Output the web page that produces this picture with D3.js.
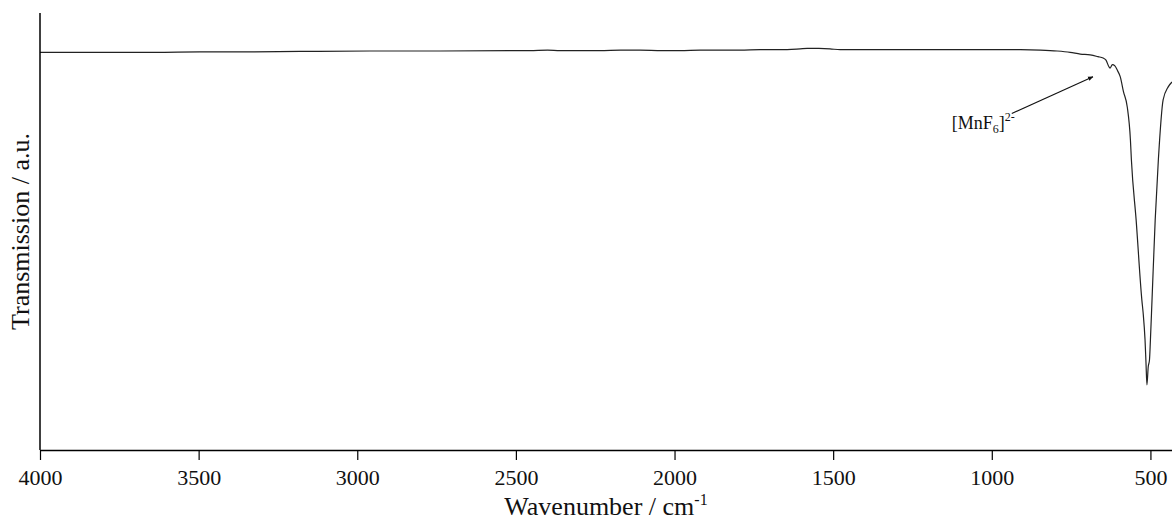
<!DOCTYPE html>
<html>
<head>
<meta charset="utf-8">
<script src="https://cdn.jsdelivr.net/npm/d3@7"></script>
<style>
  html, body { margin: 0; padding: 0; background: #fff; }
  svg { display: block; }
  svg text { font-family: "Liberation Serif", "Times New Roman", serif; fill: #111; }
</style>
</head>
<body>
<svg id="chart" width="1172" height="521"></svg>
<script>
// FT-IR spectrum: wavenumber (cm^-1) and transmission (a.u.)
const wavenumber = [4000, 3900, 3811, 3720, 3637, 3496, 3350, 3180, 2960, 2739, 2455, 2400, 2361, 2300, 2235, 2170, 2108, 2040, 1982, 1919, 1860, 1793, 1730, 1667, 1604, 1582, 1545, 1510, 1478, 1400, 1289, 1150, 973, 910, 847, 794, 753, 721, 690, 665, 649, 640, 630, 627, 620, 612, 603, 595, 585, 573, 563, 560, 545, 527, 523, 517, 514, 511, 507, 503, 500, 495, 485, 475, 460, 444, 432];
const transmission = [91.0, 91.0, 91.0, 91.0, 91.0, 91.1, 91.1, 91.2, 91.3, 91.3, 91.4, 91.5, 91.4, 91.4, 91.4, 91.5, 91.5, 91.4, 91.4, 91.5, 91.5, 91.5, 91.6, 91.6, 91.8, 91.9, 91.9, 91.8, 91.6, 91.6, 91.6, 91.6, 91.6, 91.6, 91.5, 91.3, 91.0, 90.6, 90.4, 90.0, 89.7, 89.2, 87.6, 87.4, 88.2, 87.9, 86.7, 85.4, 82.0, 78.5, 70.9, 66.4, 52.6, 34.3, 31.4, 25.2, 20.0, 14.9, 19.0, 20.6, 25.2, 34.3, 52.6, 66.4, 80.1, 83.1, 84.2];
const xTicks = [4000, 3500, 3000, 2500, 2000, 1500, 1000, 500];

// Annotation for the Mn-F band shoulder
const noteHead = [681, 85.4];
const noteTail = [937, 77.0];
const noteLabel = [1126, 73.4];

const svg = d3.select("#chart");
const margin = { left: 40, right: 0, top: 13, bottom: 71 };
const W = 1172, H = 521;

const x = d3.scaleLinear().domain([4000, 432]).range([margin.left, W - margin.right]);
const y = d3.scaleLinear().domain([0, 100]).range([H - margin.bottom, margin.top]);

// Spectrum trace
const pts = wavenumber.map((w, i) => [w, transmission[i]]);
svg.append("path")
  .datum(pts)
  .attr("d", d3.line().x(d => x(d[0])).y(d => y(d[1])).curve(d3.curveMonotoneX))
  .attr("fill", "none")
  .attr("stroke", "#222")
  .attr("stroke-width", 1.2);

// X axis
const xAxis = d3.axisBottom(x).tickValues(xTicks).tickFormat(d3.format("d"))
  .tickSize(10).tickSizeOuter(0).tickPadding(9);
const gx = svg.append("g").attr("transform", `translate(0,${y(0)})`).call(xAxis)
  .attr("font-family", null).attr("font-size", null);
gx.select(".domain").attr("stroke", "#000").attr("stroke-width", 1.5);
gx.selectAll(".tick line").attr("stroke", "#000").attr("stroke-width", 1.2);
gx.selectAll(".tick text").style("font-size", "22px");

// Y axis (no ticks)
svg.append("line")
  .attr("x1", x(4000)).attr("x2", x(4000))
  .attr("y1", y(100)).attr("y2", y(0))
  .attr("stroke", "#000").attr("stroke-width", 1.5);

// Axis titles
const xt = svg.append("text")
  .attr("x", (x(4000) + W) / 2).attr("y", 515)
  .attr("text-anchor", "middle").style("font-size", "26px");
xt.append("tspan").text("Wavenumber / cm");
xt.append("tspan").attr("dy", -10).style("font-size", "16px").text("-1");

svg.append("text")
  .attr("transform", `translate(29,${(y(0) + y(100)) / 2}) rotate(-90)`)
  .attr("text-anchor", "middle").style("font-size", "26px")
  .text("Transmission / a.u.");

// Arrow annotation
svg.append("defs").append("marker")
  .attr("id", "head").attr("viewBox", "0 0 10 10").attr("refX", 9).attr("refY", 5)
  .attr("markerWidth", 5).attr("markerHeight", 5).attr("orient", "auto")
  .append("path").attr("d", "M0,1 L10,5 L0,9 Z").attr("fill", "#111");

svg.append("line")
  .attr("x1", x(noteTail[0])).attr("y1", y(noteTail[1]))
  .attr("x2", x(noteHead[0])).attr("y2", y(noteHead[1]))
  .attr("stroke", "#111").attr("stroke-width", 1.1)
  .attr("marker-end", "url(#head)");

const lbl = svg.append("text")
  .attr("x", x(noteLabel[0])).attr("y", y(noteLabel[1]))
  .style("font-size", "18px");
lbl.append("tspan").text("[MnF");
lbl.append("tspan").attr("dy", 4).style("font-size", "12px").text("6");
lbl.append("tspan").attr("dy", -4).text("]");
lbl.append("tspan").attr("dy", -8).style("font-size", "12px").text("2-");
</script>
</body>
</html>
